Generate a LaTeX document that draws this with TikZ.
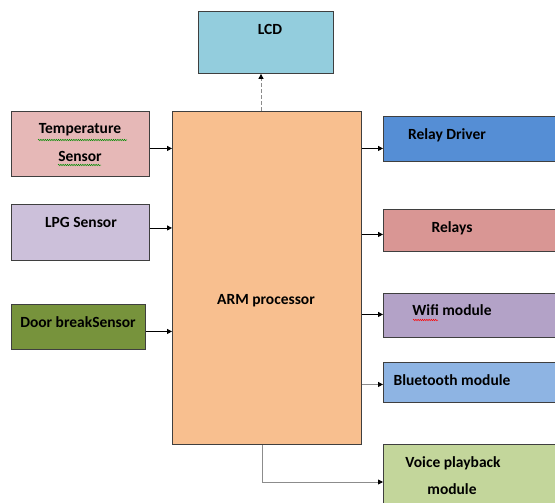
\documentclass[tikz,border=0pt]{standalone}
\usepackage{fontspec}
\setmainfont{Carlito}
\usetikzlibrary{arrows.meta,decorations.pathmorphing}
\definecolor{clcd}{HTML}{93CDDD}
\definecolor{carm}{HTML}{F8BF8F}
\definecolor{ctemp}{HTML}{E6B8B7}
\definecolor{clpg}{HTML}{CCC0DA}
\definecolor{cdoor}{HTML}{77933C}
\definecolor{crd}{HTML}{558ED5}
\definecolor{crel}{HTML}{D99694}
\definecolor{cwifi}{HTML}{B3A2C7}
\definecolor{cbt}{HTML}{8EB4E3}
\definecolor{cvoice}{HTML}{C3D69B}
\definecolor{edge}{HTML}{3F3F3F}
\tikzset{
  blk/.style={draw=edge, line width=0.9pt, rectangle, anchor=north west, inner sep=0pt},
  lbl/.style={font=\fontsize{15.5}{26}\selectfont\bfseries, text=black, align=center, inner sep=0pt},
  arr/.style={line width=0.9pt, draw=black, -{Triangle[length=5pt,width=5pt]}},
  garr/.style={line width=0.9pt, draw=black!45, -{Triangle[length=5pt,width=5pt,black]}},
  squig/.style={decorate, decoration={snake, segment length=2.2pt, amplitude=0.7pt}, line width=0.5pt},
}
\begin{document}
\begin{tikzpicture}[x=1pt,y=-1pt]
\useasboundingbox (0,0) rectangle (555,503);
\clip (0,0) rectangle (555,503);
\fill[white] (0,0) rectangle (555,503);
% boxes
\node[blk, fill=clcd, minimum width=135pt, minimum height=62pt] (lcd) at (198,11) {};
\node[blk, fill=carm, minimum width=189pt, minimum height=333pt] (arm) at (172,111) {};
\node[blk, fill=ctemp, minimum width=138pt, minimum height=65pt] (temp) at (11,111) {};
\node[blk, fill=clpg, minimum width=138pt, minimum height=56pt] (lpg) at (11,204) {};
\node[blk, fill=cdoor, minimum width=134pt, minimum height=45pt] (door) at (11,304) {};
\node[blk, fill=crd, minimum width=180pt, minimum height=45pt] (rd) at (383,116) {};
\node[blk, fill=crel, minimum width=180pt, minimum height=42pt] (rel) at (383,209) {};
\node[blk, fill=cwifi, minimum width=180pt, minimum height=44pt] (wifi) at (383,293) {};
\node[blk, fill=cbt, minimum width=180pt, minimum height=40pt] (bt) at (383,362) {};
\node[blk, fill=cvoice, minimum width=180pt, minimum height=70pt] (voice) at (383,444) {};
% labels
\node[lbl] (tlcd) at (270,29) {LCD};
\node[lbl] (tarm) at (266,301) {ARM processor};
\node[lbl] (ttemp1) at (80,130) {Temperature};
\node[lbl] (ttemp2) at (80,156) {Sensor};
\node[lbl] (tlpg) at (81,222) {LPG Sensor};
\node[lbl] (tdoor) at (78,322) {Door breakSensor};
\node[lbl] (trd) at (447,135) {Relay Driver};
\node[lbl] (trel) at (452,228) {Relays};
\node[lbl] (twifi) at (452,310) {Wifi module};
\node[lbl] (tbt) at (452,380) {Bluetooth module};
\node[lbl] (tv1) at (453,463) {Voice playback};
\node[lbl] (tv2) at (452,489) {module};
% spell-check squiggles
\draw[squig, draw=green!55!black] (38,140) -- (127,140);
\draw[squig, draw=green!55!black] (58,165) -- (101,165);
\draw[squig, draw=red] (413,320) -- (438,320);
% connectors
\coordinate (armtop) at (261,111);
\draw[garr, dashed, dash pattern=on 4pt off 2pt] (arm.north -| armtop) -- (lcd.south -| armtop);
\draw[arr] ([yshift=-4.5pt]temp.east) -- ([yshift=-4.5pt]temp.east -| arm.west);
\draw[arr] ([yshift=4.5pt]lpg.east) -- ([yshift=4.5pt]lpg.east -| arm.west);
\draw[arr] ([yshift=-4.5pt]door.east) -- ([yshift=-4.5pt]door.east -| arm.west);
\draw[arr] ([yshift=-9.5pt]rd.west -| arm.east) -- ([yshift=-9.5pt]rd.west);
\draw[arr] ([yshift=-4pt]rel.west -| arm.east) -- ([yshift=-4pt]rel.west);
\draw[arr] ([yshift=1pt]wifi.west -| arm.east) -- ([yshift=1pt]wifi.west);
\draw[garr] ([yshift=-2pt]bt.west -| arm.east) -- ([yshift=-2pt]bt.west);
\coordinate (vbend) at (262,482);
\draw[garr] (arm.south -| vbend) -- (vbend) -- (vbend -| voice.west);
\end{tikzpicture}
\end{document}
